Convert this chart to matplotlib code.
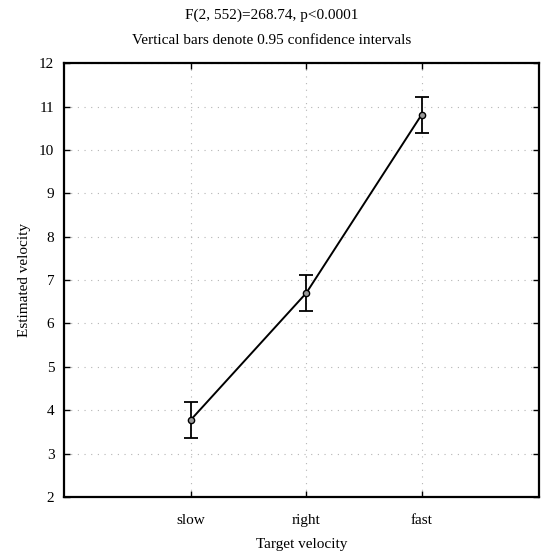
import numpy as np
import matplotlib.pyplot as plt

plt.rcParams['font.family'] = ['Liberation Serif', 'DejaVu Serif']

# data
categories = ['slow', 'right', 'fast']
means = [3.78, 6.70, 10.81]
ci_low = [3.36, 6.29, 10.39]
ci_high = [4.20, 7.11, 11.23]

x = np.arange(len(categories))
err = [np.array(means) - np.array(ci_low), np.array(ci_high) - np.array(means)]

fig = plt.figure(figsize=(5.43, 5.54), dpi=100)
ax = fig.add_axes([0.118, 0.103, 0.875, 0.783])

ax.errorbar(x, means, yerr=err, color='black', lw=1.4, elinewidth=1.3,
            capsize=5, capthick=1.3, marker='o', markersize=4.5,
            markerfacecolor='#9a9a9a', markeredgecolor='black', zorder=3)

ax.set_xlim(-1.1, 3.02)
ax.set_ylim(2, 12)
ax.set_xticks(x)
ax.set_xticklabels(categories)
ax.set_yticks(range(2, 13))

ax.grid(True, linestyle=(0, (1, 5)), color='#b5b5b5', lw=0.8)
ax.tick_params(direction='in', length=4, width=1, top=True, right=True,
               labelsize=11, pad=7)
ax.tick_params(axis='x', pad=12)
for s in ax.spines.values():
    s.set_linewidth(1.6)

ax.set_xlabel('Target velocity', fontsize=11, labelpad=8)
ax.set_ylabel('Estimated velocity', fontsize=11, labelpad=6)

fig.text(0.5, 0.972, 'F(2, 552)=268.74, p<0.0001', ha='center', va='center', fontsize=11)
fig.text(0.5, 0.927, 'Vertical bars denote 0.95 confidence intervals', ha='center', va='center',
         fontsize=11)

fig.savefig('out.png', dpi=100)
